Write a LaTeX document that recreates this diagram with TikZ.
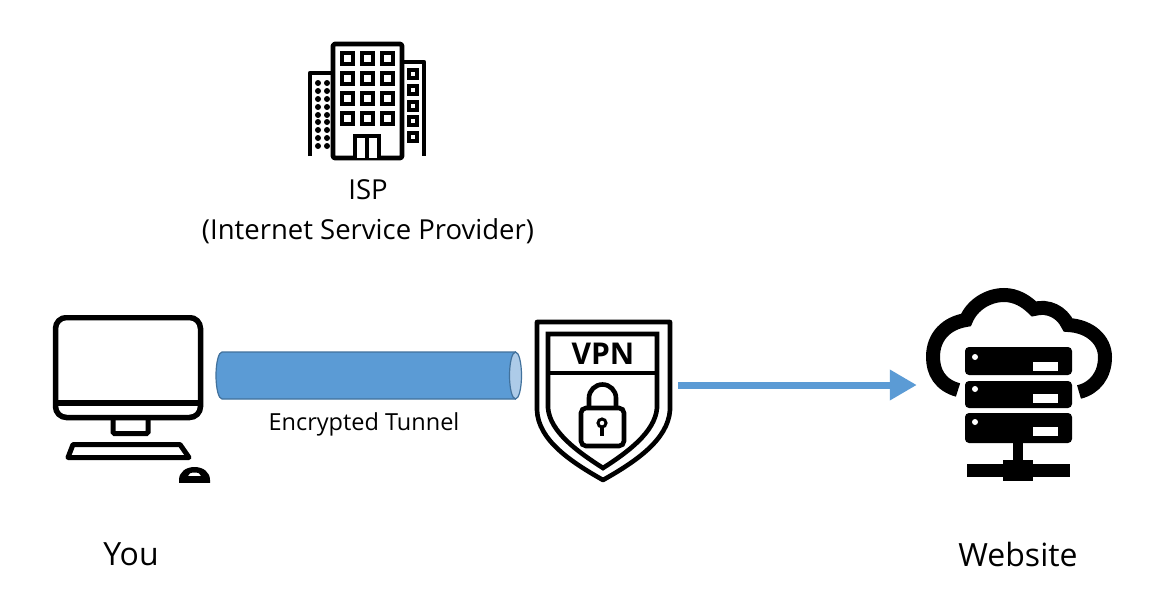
\documentclass[tikz,border=0pt]{standalone}
\usepackage{fontspec}
\setmainfont{Open Sans}
\usetikzlibrary{arrows.meta}
\definecolor{tubeblue}{HTML}{5B9BD5}
\definecolor{tubeedge}{HTML}{41719C}
\definecolor{tubeend}{HTML}{ADCBE8}
\tikzset{
  label big/.style={font=\fontsize{32}{38}\selectfont, inner sep=0pt},
  label isp/.style={font=\fontsize{27.5}{40}\selectfont, align=center, inner sep=0pt},
  label tunnel/.style={font=\fontsize{23.5}{28}\selectfont, inner sep=0pt},
  icon box/.style={inner sep=0pt},
  icon line/.style={draw=black, line width=4.6pt, line join=round},
  win/.style={draw=black, line width=4pt, fill=white},
  rack/.style={fill=black, rounded corners=4pt},
}
\begin{document}
\begin{tikzpicture}[x=1pt, y=-1pt]
  \fill[white] (0,0) rectangle (1176,613);
  \useasboundingbox (0,0) rectangle (1176,613);
  % Nodes
  \node[icon box, minimum width=158pt, minimum height=168pt] (you) at (131,398) {};
  \node[icon box, minimum width=150pt, minimum height=170pt] (vpn) at (603,385) {};
  \node[icon box, minimum width=202pt, minimum height=190pt] (website) at (1018,385) {};
  \node[icon box, minimum width=116pt, minimum height=116pt] (isp) at (367,101) {};
  \node[icon box, minimum width=306pt, minimum height=47pt] (tunnel) at (369,375.5) {};
  \node[label isp] (isplabel) at (368,211.5) {ISP\\(Internet Service Provider)};
  \node[label tunnel] (tunnellabel) at (364,424.5) {Encrypted Tunnel};
  \node[label big] (youlabel) at (131,554) {You};
  \node[label big] (websitelabel) at (1018,554) {Website};
  \node[font=\fontsize{30}{32}\selectfont\bfseries, inner sep=0pt] (vpntext) at (603,354) {VPN};
  % Tunnel
  \draw[draw=tubeedge, fill=tubeblue, line width=1.2pt] (515,352) -- (222,352)
    arc[start angle=90, end angle=270, x radius=6pt, y radius=23.5pt] -- (515,399) -- cycle;
  \draw[draw=tubeedge, fill=tubeend, line width=1.2pt] (515.5,375.5) ellipse (6pt and 23.5pt);
  % Building
  \draw[icon line, rounded corners=1.5pt] (333,158) rectangle (402,44);
  \draw[icon line] (310,156) -- (310,73) -- (333,73);
  \draw[icon line] (402,62) -- (424,62) -- (424,156);
  \foreach \wx in {347,367,387}
    \foreach \wy in {58,78,98,118}
      \draw[win] (\wx-5.5,\wy-5.5) rectangle (\wx+5.5,\wy+5.5);
  \foreach \wy in {74,90,106,121,137}
    \draw[win, line width=3.6pt] (413-4,\wy-4) rectangle (413+4,\wy+4);
  \foreach \wx in {318,327}
    \foreach \wy in {83,91,99,107,115,122,130,138,146}
      \fill[black] (\wx,\wy) circle (3pt);
  \draw[win] (355,158) -- (355,136) -- (379,136) -- (379,158);
  \draw[win] (367,136) -- (367,158);
  % Computer
  \begin{scope}
    \clip (40,315) rectangle (220,482);
    \draw[black, line width=5.5pt, rounded corners=11pt] (55.5,417.5) -- (55.5,317.5) -- (200.5,317.5) -- (200.5,417.5) -- cycle;
    \draw[black, line width=5.5pt] (55,403) -- (201,403);
    \draw[black, line width=5pt, rounded corners=1.5pt] (113,420) -- (113,433.5) -- (148,433.5) -- (148,420);
    \draw[black, line width=5pt, line join=round] (73,444.5) -- (180,444.5) -- (189,457.5) -- (68,457.5) -- cycle;
    \fill[black, even odd rule] (179,485) -- (179,480) .. controls (179,472) and (186,467) .. (194.5,467) .. controls (203,467) and (210,472) .. (210,480) -- (210,485) -- cycle
      (188,476) .. controls (188,473.5) and (191,472.5) .. (194.5,472.5) .. controls (198,472.5) and (201,473.5) .. (201,476) -- cycle;
  \end{scope}
  % Shield
  \draw[black, line width=4.6pt, line join=round] (537,322) -- (670,322) -- (670,410)
    .. controls (668,440) and (635,462) .. (603,480) .. controls (571,462) and (538,440) .. (537,410) -- cycle;
  \draw[black, line width=4.6pt, line join=miter] (548,334) -- (657,334) -- (657,408)
    .. controls (655,432) and (628,452) .. (603,468) .. controls (578,452) and (550,432) .. (548,408) -- cycle;
  \draw[black, line width=4.6pt] (548,373) -- (657,373);
  \draw[black, line width=4.6pt, rounded corners=5pt] (581,408) rectangle (624,446);
  \draw[black, line width=4.6pt] (589,408) -- (589,398) arc[start angle=180, end angle=0, radius=13.5pt] -- (616,408);
  \draw[black, line width=3pt] (602,423) circle (4pt);
  \draw[black, line width=3.5pt] (602,427) -- (602,436);
  % Cloud
  \draw[black, line width=14pt] (958,390) .. controls (940,385) and (933,372) .. (933,357)
    .. controls (933,336) and (947,323) .. (966,320) .. controls (972,305) and (988,295) .. (1004,295)
    .. controls (1016,295) and (1026,301) .. (1034,309) .. controls (1048,305) and (1062,312) .. (1068,325)
    .. controls (1090,326) and (1105,340) .. (1105,357) .. controls (1105,375) and (1095,388) .. (1079,392);
  % Server
  \fill[rack] (965,347) rectangle (1072,375);
  \fill[rack] (965,381) rectangle (1072,408);
  \fill[rack] (965,413) rectangle (1072,443);
  \foreach \ry in {357,389,422}
    \fill[white] (975,\ry) circle (3pt);
  \foreach \ry in {362,394,427}
    \fill[white] (1033,\ry) rectangle (1058,\ry+8.5);
  \fill[black] (1013,443) rectangle (1023,464);
  \fill[black] (1003,460) rectangle (1033,481);
  \fill[black] (967,464) rectangle (1070,477);
  % Edges
  \draw[-{Triangle[length=27pt,width=29pt]}, tubeblue, line width=7pt] (vpn.east) -- (website.west);
\end{tikzpicture}
\end{document}
